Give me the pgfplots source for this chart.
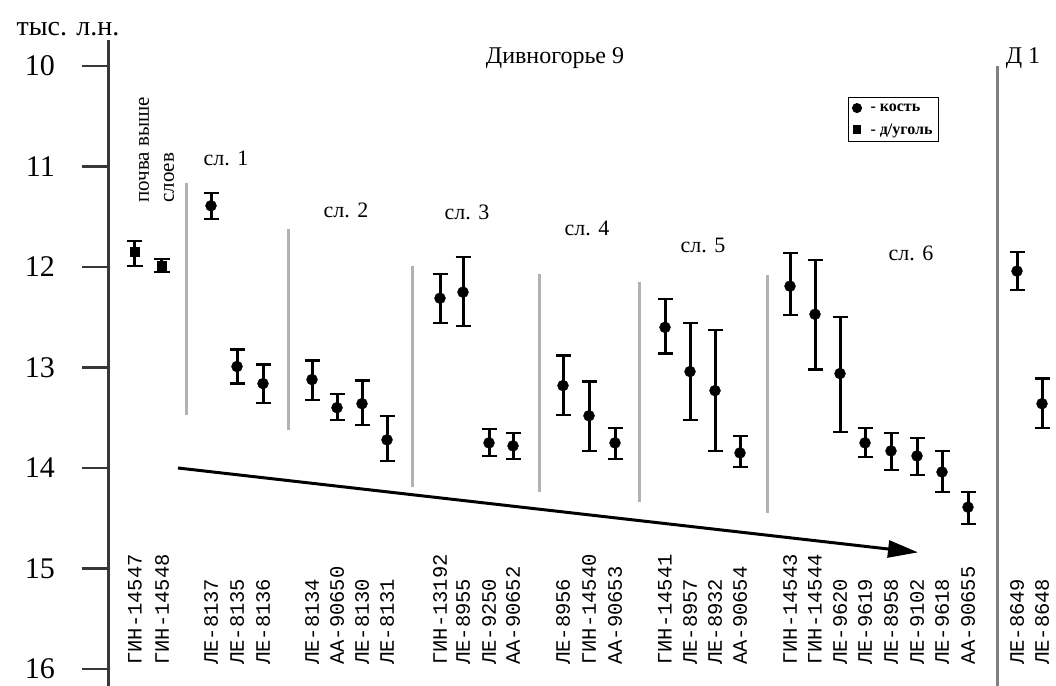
\documentclass[border=0pt]{standalone}
\usepackage{fontspec}
\setmainfont{Liberation Serif}
\newfontfamily\monofont{Liberation Mono}
\usepackage{pgfplots}
\pgfplotsset{compat=1.18}
\usepackage{pgfplotstable}
\usetikzlibrary{arrows.meta}

% x = position of the sample (px), y = age, em/ep = error up/down
\pgfplotstableread{
x    y     em   ep
211  11.39 0.13 0.13
237  12.99 0.17 0.17
263  13.16 0.19 0.19
312  13.12 0.19 0.20
337  13.40 0.14 0.12
362  13.36 0.23 0.21
387  13.72 0.24 0.21
440  12.31 0.24 0.25
463  12.25 0.35 0.34
489  13.75 0.14 0.13
513  13.78 0.13 0.13
563  13.18 0.30 0.29
589  13.48 0.34 0.35
615  13.75 0.15 0.16
665  12.60 0.28 0.26
690  13.04 0.48 0.48
715  13.23 0.60 0.60
740  13.85 0.17 0.14
790  12.19 0.33 0.29
815  12.47 0.54 0.55
840  13.06 0.56 0.58
865  13.75 0.15 0.14
891  13.83 0.18 0.19
917  13.88 0.18 0.19
942  14.04 0.21 0.20
968  14.39 0.15 0.17
1017 12.04 0.19 0.19
1042 13.36 0.25 0.24
}\kost

\pgfplotstableread{
x    y     em   ep
135  11.85 0.11 0.14
162  11.99 0.07 0.06
}\ugol

\definecolor{sepgray}{gray}{0.70}
\definecolor{dgray}{gray}{0.50}
\definecolor{axgray}{gray}{0.22}

\newcommand{\fs}[1]{\fontsize{#1bp}{#1bp}\selectfont}

\begin{document}
\begin{tikzpicture}
\begin{axis}[
  name=ax, scale only axis,
  width=947bp, height=646bp,
  xmin=109, xmax=1056, ymin=9.74, ymax=16.17,
  y dir=reverse, clip=false,
  axis y line*=left, axis x line*=bottom,
  x axis line style={draw=none},
  y axis line style={-, line width=3bp, color=axgray},
  ytick={10,11,12,13,14,15,16},
  tick align=outside, major tick length=27bp,
  ytick style={line width=2.5bp, color=axgray},
  yticklabel style={font=\fs{30}, inner sep=0pt, anchor=east},
  yticklabel shift=27bp,
  /pgf/number format/assume math mode=true,
  xtick={135,162,211,237,263,312,337,362,387,440,463,489,513,563,589,615,665,690,715,740,790,815,840,865,891,917,942,968,1017,1042},
  xticklabels={ГИН-14547,ГИН-14548,ЛЕ-8137,ЛЕ-8135,ЛЕ-8136,ЛЕ-8134,АА-90650,ЛЕ-8130,ЛЕ-8131,ГИН-13192,ЛЕ-8955,ЛЕ-9250,АА-90652,ЛЕ-8956,ГИН-14540,АА-90653,ГИН-14541,ЛЕ-8957,ЛЕ-8932,АА-90654,ГИН-14543,ГИН-14544,ЛЕ-9620,ЛЕ-9619,ЛЕ-8958,ЛЕ-9102,ЛЕ-9618,АА-90655,ЛЕ-8649,ЛЕ-8648},
  xtick style={draw=none},
  xticklabel style={rotate=90, anchor=west, inner sep=0pt, font=\monofont\fs{20.5}},
  xticklabel shift=-48bp,
  legend style={at={(axis cs:848,10.308)}, anchor=north west, draw=black, line width=1bp,
    font=\bfseries\fs{16}, inner xsep=4bp, inner ysep=4bp, row sep=7bp},
  legend cell align=left,
]
% separators between layers
\draw[sepgray, line width=3bp] (axis cs:186,11.16) -- (axis cs:186,13.47);
\draw[sepgray, line width=3bp] (axis cs:288,11.62) -- (axis cs:288,13.62);
\draw[sepgray, line width=3bp] (axis cs:412,11.99) -- (axis cs:412,14.19);
\draw[sepgray, line width=3bp] (axis cs:539,12.07) -- (axis cs:539,14.24);
\draw[sepgray, line width=3bp] (axis cs:639,12.15) -- (axis cs:639,14.34);
\draw[sepgray, line width=3bp] (axis cs:767,12.08) -- (axis cs:767,14.45);
\draw[dgray, line width=3bp] (axis cs:997,10.0) -- (axis cs:997,16.17);

\draw[black, line width=3bp, -{Triangle[length=30bp,width=17bp]}]
  (axis cs:178,14.0) -- (axis cs:918,14.84);

\addplot[only marks, mark=*, mark size=5.5bp, black, forget plot,
  error bars/.cd, y dir=both, y explicit,
  error bar style={line width=3bp, black},
  error mark options={rotate=90, line width=2.2bp, mark size=7.5bp, black}]
  table[x=x, y=y, y error plus=ep, y error minus=em] {\kost};
\addplot[only marks, mark=square*, mark size=4.5bp, black, forget plot,
  error bars/.cd, y dir=both, y explicit,
  error bar style={line width=3bp, black},
  error mark options={rotate=90, line width=2.2bp, mark size=7.5bp, black}]
  table[x=x, y=y, y error plus=ep, y error minus=em] {\ugol};

\addlegendimage{only marks, mark=*, mark size=4.5bp, black}
\addlegendentry{\hspace{7bp}- кость}
\addlegendimage{only marks, mark=square*, mark size=3.8bp, black}
\addlegendentry{\hspace{7bp}- д/уголь}

% texts
\node[font=\fs{28}] at (axis cs:68,9.63) {тыс. л.н.};
\node[font=\fs{24}, anchor=base] at (axis cs:555,9.97) {Дивногорье 9};
\node[font=\fs{24}, anchor=base] at (axis cs:1023,9.97) {Д 1};
\node[font=\fs{22}, anchor=base] at (axis cs:226,10.985) {сл. 1};
\node[font=\fs{22}, anchor=base] at (axis cs:346,11.51) {сл. 2};
\node[font=\fs{22}, anchor=base] at (axis cs:467,11.53) {сл. 3};
\node[font=\fs{22}, anchor=base] at (axis cs:587,11.69) {сл. 4};
\node[font=\fs{22}, anchor=base] at (axis cs:703,11.86) {сл. 5};
\node[font=\fs{22}, anchor=base] at (axis cs:911,11.93) {сл. 6};
\node[font=\fs{21}, rotate=90, anchor=west, inner sep=0pt] at (axis cs:144,11.36) {почва выше};
\node[font=\fs{21}, rotate=90, anchor=west, inner sep=0pt] at (axis cs:169,11.36) {слоев};
\end{axis}
\pgfresetboundingbox
\path[use as bounding box] (ax.south west) ++(-109bp,0) rectangle ++(1056bp,686bp);
\end{tikzpicture}
\end{document}
